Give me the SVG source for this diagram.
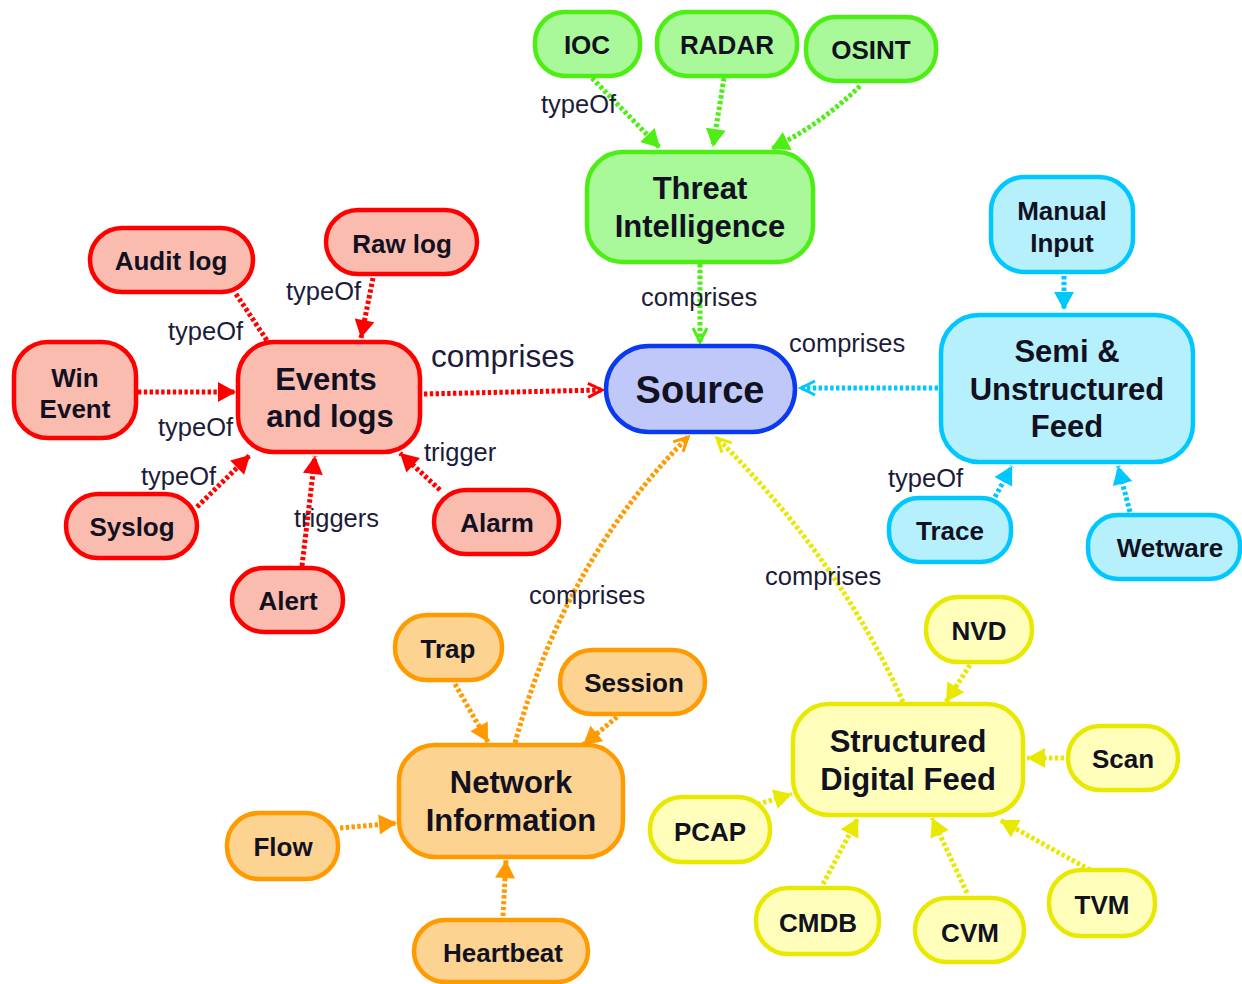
<svg xmlns="http://www.w3.org/2000/svg" width="1242" height="984" viewBox="0 0 1242 984">
<style>
.n rect{stroke-width:4.5}
.n text{font-family:"Liberation Sans",Arial,sans-serif;font-weight:bold;fill:#111122;text-anchor:middle}
.s{font-size:26px}
.b{font-size:31px}
.red rect{fill:#fbbcb0;stroke:#ff0000}
.grn rect{fill:#a9f89a;stroke:#4cee14}
.cyn rect{fill:#b6f0fc;stroke:#00c8ff}
.org rect{fill:#fdd391;stroke:#ff9a00}
.yel rect{fill:#ffffbb;stroke:#e8e800}
.blu rect{fill:#bfc8f8;stroke:#0a3af0}
.e path{fill:none;stroke-width:5;stroke-dasharray:3.4 2.4}
.lbl{font-family:"Liberation Sans",Arial,sans-serif;font-size:25.5px;fill:#1c1c3a}
</style>
<defs>
<marker id="tR" markerUnits="userSpaceOnUse" markerWidth="20" markerHeight="20" refX="18" refY="10" orient="auto" overflow="visible"><path d="M0,0 L18,10 L0,20 z" fill="#ff0000"/></marker>
<marker id="tG" markerUnits="userSpaceOnUse" markerWidth="20" markerHeight="20" refX="18" refY="10" orient="auto" overflow="visible"><path d="M0,0 L18,10 L0,20 z" fill="#4cee14"/></marker>
<marker id="tC" markerUnits="userSpaceOnUse" markerWidth="20" markerHeight="20" refX="18" refY="10" orient="auto" overflow="visible"><path d="M0,0 L18,10 L0,20 z" fill="#00c8ff"/></marker>
<marker id="tO" markerUnits="userSpaceOnUse" markerWidth="20" markerHeight="20" refX="18" refY="10" orient="auto" overflow="visible"><path d="M0,0 L18,10 L0,20 z" fill="#ff9a00"/></marker>
<marker id="tY" markerUnits="userSpaceOnUse" markerWidth="20" markerHeight="20" refX="18" refY="10" orient="auto" overflow="visible"><path d="M0,0 L18,10 L0,20 z" fill="#e8e800"/></marker>
<marker id="oR" markerUnits="userSpaceOnUse" markerWidth="16" markerHeight="16" refX="14" refY="7" orient="auto" overflow="visible"><path d="M0,0 L14,7 L0,14" fill="none" stroke="#ff0000" stroke-width="3"/></marker>
<marker id="oG" markerUnits="userSpaceOnUse" markerWidth="16" markerHeight="16" refX="14" refY="7" orient="auto" overflow="visible"><path d="M0,0 L14,7 L0,14" fill="none" stroke="#4cee14" stroke-width="3"/></marker>
<marker id="oC" markerUnits="userSpaceOnUse" markerWidth="16" markerHeight="16" refX="14" refY="7" orient="auto" overflow="visible"><path d="M0,0 L14,7 L0,14" fill="none" stroke="#00c8ff" stroke-width="3"/></marker>
<marker id="oO" markerUnits="userSpaceOnUse" markerWidth="16" markerHeight="16" refX="14" refY="7" orient="auto" overflow="visible"><path d="M0,0 L14,7 L0,14" fill="none" stroke="#ff9a00" stroke-width="3"/></marker>
<marker id="oY" markerUnits="userSpaceOnUse" markerWidth="16" markerHeight="16" refX="14" refY="7" orient="auto" overflow="visible"><path d="M0,0 L14,7 L0,14" fill="none" stroke="#e8e800" stroke-width="3"/></marker>
</defs>
<rect width="1242" height="984" fill="#ffffff"/>
<g id="connectors" class="e">
<path d="M592,78 L660,148" stroke="#4cee14" marker-end="url(#tG)"/>
<path d="M724,78 L713,147" stroke="#4cee14" marker-end="url(#tG)"/>
<path d="M860,86 Q820,125 771,149" stroke="#4cee14" marker-end="url(#tG)"/>
<path d="M700,264 L700,342" stroke="#4cee14" marker-end="url(#oG)"/>
<path d="M236,294 L268,342" stroke="#ff0000"/>
<path d="M373,278 L361,338" stroke="#ff0000" marker-end="url(#tR)"/>
<path d="M138,392 L236,392" stroke="#ff0000" marker-end="url(#tR)"/>
<path d="M197,507 L250,455" stroke="#ff0000" marker-end="url(#tR)"/>
<path d="M302,566 L315,456" stroke="#ff0000" marker-end="url(#tR)"/>
<path d="M440,490 L400,453" stroke="#ff0000" marker-end="url(#tR)"/>
<path d="M424,394 L602,390" stroke="#ff0000" marker-end="url(#oR)"/>
<path d="M1064,276 L1064,310" stroke="#00c8ff" marker-end="url(#tC)"/>
<path d="M938,388 L801,388" stroke="#00c8ff" marker-end="url(#oC)"/>
<path d="M995,497 L1012,466" stroke="#00c8ff" marker-end="url(#tC)"/>
<path d="M1130,512 L1118,466" stroke="#00c8ff" marker-end="url(#tC)"/>
<path d="M515,743 Q565,560 688,437" stroke="#ff9a00" marker-end="url(#oO)"/>
<path d="M455,684 L488,742" stroke="#ff9a00" marker-end="url(#tO)"/>
<path d="M617,717 L583,745" stroke="#ff9a00" marker-end="url(#tO)"/>
<path d="M340,828 L397,823" stroke="#ff9a00" marker-end="url(#tO)"/>
<path d="M503,916 L506,860" stroke="#ff9a00" marker-end="url(#tO)"/>
<path d="M903,702 Q840,560 717,438" stroke="#e8e800" marker-end="url(#oY)"/>
<path d="M970,665 L946,702" stroke="#e8e800" marker-end="url(#tY)"/>
<path d="M1064,758 L1027,758" stroke="#e8e800" marker-end="url(#tY)"/>
<path d="M752,806 L792,794" stroke="#e8e800" marker-end="url(#tY)"/>
<path d="M823,884 L858,818" stroke="#e8e800" marker-end="url(#tY)"/>
<path d="M967,893 L932,818" stroke="#e8e800" marker-end="url(#tY)"/>
<path d="M1090,870 L1000,820" stroke="#e8e800" marker-end="url(#tY)"/>
</g>
<g id="labels" class="lbl">
<text x="541" y="113">typeOf</text>
<text x="641" y="306">comprises</text>
<text x="286" y="300">typeOf</text>
<text x="168" y="340">typeOf</text>
<text x="431" y="367" style="font-size:31.5px">comprises</text>
<text x="158" y="436">typeOf</text>
<text x="424" y="461">trigger</text>
<text x="141" y="485">typeOf</text>
<text x="294" y="527">triggers</text>
<text x="789" y="352">comprises</text>
<text x="888" y="487">typeOf</text>
<text x="529" y="604">comprises</text>
<text x="765" y="585">comprises</text>
</g>
<g id="ioc" class="n grn"><rect x="535" y="12" width="105" height="64" rx="30"/><text class="s" x="587" y="54">IOC</text></g>
<g id="radar" class="n grn"><rect x="657" y="12" width="140" height="64" rx="30"/><text class="s" x="727" y="54">RADAR</text></g>
<g id="osint" class="n grn"><rect x="806" y="17" width="130" height="64" rx="30"/><text class="s" x="871" y="59">OSINT</text></g>
<g id="threat" class="n grn"><rect x="587" y="152" width="226" height="110" rx="36"/><text class="b" x="700" y="199">Threat</text><text class="b" x="700" y="237">Intelligence</text></g>
<g id="source" class="n blu"><rect x="606" y="346" width="189" height="86" rx="43"/><text x="700" y="403" style="font-size:38px">Source</text></g>
<g id="manual" class="n cyn"><rect x="991" y="177" width="142" height="95" rx="34"/><text class="s" x="1062" y="220">Manual</text><text class="s" x="1062" y="252">Input</text></g>
<g id="semi" class="n cyn"><rect x="941" y="315" width="252" height="147" rx="38"/><text class="b" x="1067" y="362">Semi &amp;</text><text class="b" x="1067" y="400">Unstructured</text><text class="b" x="1067" y="437">Feed</text></g>
<g id="trace" class="n cyn"><rect x="889" y="498" width="122" height="64" rx="30"/><text class="s" x="950" y="540">Trace</text></g>
<g id="wetware" class="n cyn"><rect x="1088" y="515" width="152" height="64" rx="30"/><text class="s" x="1170" y="557">Wetware</text></g>
<g id="audit" class="n red"><rect x="90" y="228" width="163" height="64" rx="32"/><text class="s" x="171" y="270">Audit log</text></g>
<g id="rawlog" class="n red"><rect x="326" y="210" width="151" height="64" rx="32"/><text class="s" x="402" y="253">Raw log</text></g>
<g id="winevent" class="n red"><rect x="14" y="342" width="122" height="96" rx="34"/><text class="s" x="75" y="387">Win</text><text class="s" x="75" y="418">Event</text></g>
<g id="events" class="n red"><rect x="238" y="342" width="182" height="110" rx="36"/><text class="b" x="326" y="390">Events</text><text class="b" x="330" y="427">and logs</text></g>
<g id="syslog" class="n red"><rect x="66" y="494" width="131" height="64" rx="32"/><text class="s" x="132" y="536">Syslog</text></g>
<g id="alert" class="n red"><rect x="232" y="568" width="111" height="64" rx="32"/><text class="s" x="288" y="610">Alert</text></g>
<g id="alarm" class="n red"><rect x="434" y="490" width="125" height="64" rx="32"/><text class="s" x="497" y="532">Alarm</text></g>
<g id="trap" class="n org"><rect x="395" y="615" width="107" height="65" rx="32"/><text class="s" x="448" y="658">Trap</text></g>
<g id="session" class="n org"><rect x="560" y="650" width="145" height="64" rx="32"/><text class="s" x="634" y="692">Session</text></g>
<g id="network" class="n org"><rect x="399" y="745" width="224" height="112" rx="36"/><text class="b" x="511" y="793">Network</text><text class="b" x="511" y="831">Information</text></g>
<g id="flow" class="n org"><rect x="227" y="813" width="111" height="66" rx="32"/><text class="s" x="283" y="856">Flow</text></g>
<g id="heartbeat" class="n org"><rect x="414" y="920" width="174" height="62" rx="31"/><text class="s" x="503" y="962">Heartbeat</text></g>
<g id="nvd" class="n yel"><rect x="926" y="597" width="106" height="65" rx="32"/><text class="s" x="979" y="640">NVD</text></g>
<g id="structured" class="n yel"><rect x="793" y="704" width="230" height="111" rx="36"/><text class="b" x="908" y="752">Structured</text><text class="b" x="908" y="790">Digital Feed</text></g>
<g id="scan" class="n yel"><rect x="1068" y="726" width="110" height="64" rx="32"/><text class="s" x="1123" y="768">Scan</text></g>
<g id="pcap" class="n yel"><rect x="650" y="797" width="120" height="65" rx="32"/><text class="s" x="710" y="841">PCAP</text></g>
<g id="cmdb" class="n yel"><rect x="756" y="888" width="123" height="66" rx="32"/><text class="s" x="818" y="932">CMDB</text></g>
<g id="cvm" class="n yel"><rect x="915" y="898" width="109" height="64" rx="32"/><text class="s" x="970" y="942">CVM</text></g>
<g id="tvm" class="n yel"><rect x="1049" y="870" width="106" height="66" rx="32"/><text class="s" x="1102" y="914">TVM</text></g>
</svg>
